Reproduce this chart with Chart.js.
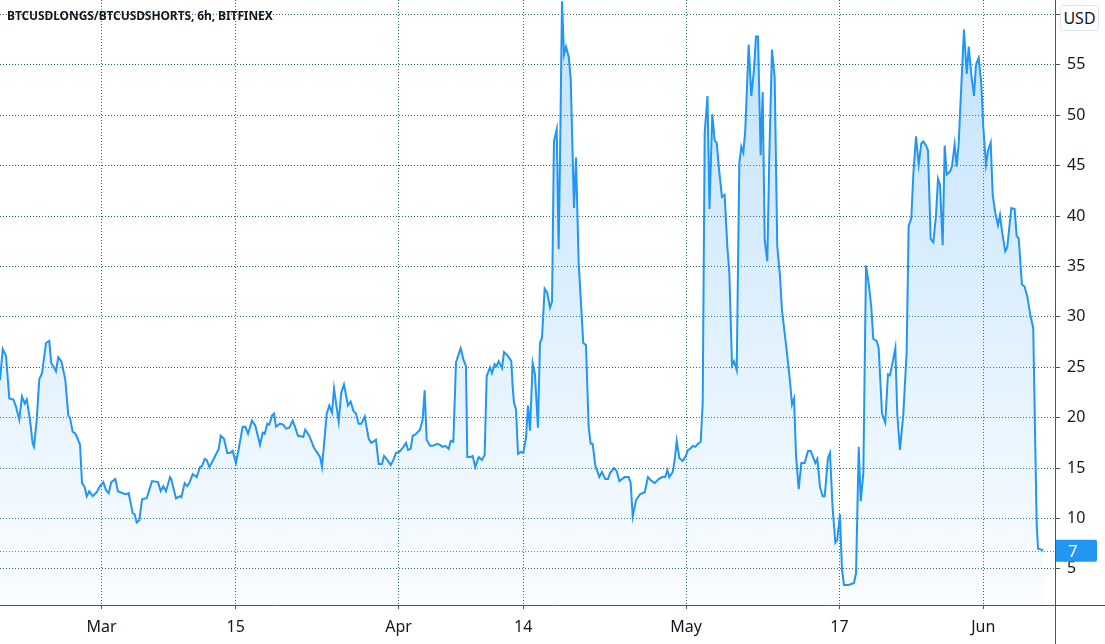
<!DOCTYPE html>
<html>
<head>
<meta charset="utf-8">
<script src="https://cdn.jsdelivr.net/npm/chart.js@4.4.1/dist/chart.umd.min.js"></script>
<style>
  html, body { margin: 0; padding: 0; background: #fff; }
  #wrap { position: relative; width: 1105px; height: 644px; }
  #title {
    position: absolute; left: 7px; top: 7px;
    font: bold 12px "Noto Sans", "DejaVu Sans", sans-serif; color: #131722;
    letter-spacing: -0.1px;
  }
  #unit {
    position: absolute; left: 1060px; top: 5px; width: 39px; height: 26px;
    box-sizing: border-box; border: 1px solid #e0e3eb; border-radius: 3px; background: #fff;
    font: 16px "Noto Sans", sans-serif; color: #131722; text-align: center; line-height: 24px;
  }
</style>
</head>
<body>
<div id="wrap">
  <canvas id="chart" width="1105" height="644"></canvas>
  <div id="title">BTCUSDLONGS/BTCUSDSHORTS, 6h, BITFINEX</div>
  <div id="unit">USD</div>
</div>
<script>
// days counted from 1 Mar
const days = [
  -10.59, -10.31, -9.96, -9.62, -9.20, -8.92, -8.58, -8.30, -8.01, -7.80, -7.46, -7.18, -7.04, -6.76, -6.49, -6.21,
  -5.79, -5.45, -5.24, -4.96, -4.75, -4.51, -4.19, -3.78, -3.46, -3.29, -3.01, -2.73, -2.53, -2.24, -2.03, -1.75,
  -1.54, -1.27, -0.92, -0.50, -0.16, 0.19, 0.47, 0.75, 1.02, 1.44, 1.72, 2.21, 2.56, 2.84, 3.26, 3.46, 3.67, 3.94,
  4.23, 4.72, 5.27, 5.90, 6.18, 6.45, 6.73, 7.15, 7.28, 7.77, 8.19, 8.33, 8.68, 8.95, 9.16, 9.52, 9.93, 10.28, 10.49,
  10.77, 10.98, 11.25, 11.60, 12.23, 12.44, 12.78, 13.13, 13.41, 13.69, 14.03, 14.32, 14.73, 15.00, 15.29, 15.70,
  16.05, 16.54, 16.82, 17.03, 17.30, 17.51, 17.79, 18.00, 18.21, 18.62, 18.97, 19.25, 19.60, 19.95, 20.22, 20.50,
  21.06, 21.26, 21.68, 22.17, 22.59, 22.80, 23.01, 23.50, 23.77, 24.05, 24.26, 24.75, 25.02, 25.30, 25.72, 26.00,
  26.27, 26.55, 26.84, 27.11, 27.46, 27.88, 28.15, 28.64, 28.92, 29.27, 29.48, 29.82, 30.18, 30.45, 30.73, 31.07,
  31.43, 31.77, 31.98, 32.26, 32.47, 32.74, 33.23, 33.51, 33.72, 33.93, 34.28, 34.56, 35.04, 35.32, 35.60, 35.87,
  36.23, 36.44, 36.71, 36.99, 37.48, 37.75, 38.03, 38.17, 38.52, 38.73, 39.00, 39.36, 39.70, 39.98, 40.19, 40.54,
  40.74, 41.03, 41.23, 41.44, 41.79, 42.00, 42.34, 42.76, 42.90, 43.04, 43.25, 43.46, 43.74, 44.01, 44.29, 44.50,
  44.71, 44.99, 45.23, 45.54, 45.75, 45.96, 46.24, 46.51, 46.80, 47.01, 47.21, 47.50, 47.70, 47.84, 48.05, 48.26,
  48.47, 48.75, 48.96, 49.30, 49.51, 49.79, 50.27, 50.55, 50.83, 51.04, 51.25, 51.52, 51.94, 52.22, 52.57, 52.85,
  53.06, 53.47, 53.76, 54.03, 54.59, 55.01, 55.22, 55.43, 55.77, 56.19, 56.68, 57.02, 57.30, 57.72, 58.14, 58.48,
  58.83, 59.04, 59.25, 59.60, 59.81, 60.02, 60.29, 60.64, 60.92, 61.20, 61.41, 61.69, 61.96, 62.24, 62.52, 62.73,
  62.94, 63.23, 63.44, 63.73, 63.98, 64.19, 64.46, 64.74, 65.02, 65.30, 65.51, 65.79, 66.00, 66.28, 66.55, 66.76,
  66.97, 67.17, 67.53, 67.80, 68.08, 68.29, 68.50, 68.78, 68.99, 69.20, 69.47, 69.68, 69.96, 70.24, 70.51, 70.80,
  71.00, 71.49, 71.84, 72.05, 72.26, 72.47, 72.75, 73.02, 73.37, 73.72, 74.00, 74.48, 74.69, 74.97, 75.25, 75.46,
  75.80, 76.01, 76.29, 76.57, 76.77, 77.05, 77.26, 77.47, 77.96, 78.52, 78.73, 79.01, 79.22, 79.49, 79.77, 80.05,
  80.32, 80.53, 80.88, 81.09, 81.44, 81.78, 82.06, 82.27, 82.55, 82.83, 83.03, 83.31, 83.66, 84.01, 84.22, 84.50,
  84.71, 84.99, 85.27, 85.54, 85.75, 86.03, 86.24, 86.52, 86.79, 87.07, 87.28, 87.49, 87.77, 87.98, 88.19, 88.53,
  88.74, 89.02, 89.23, 89.44, 89.65, 89.99, 90.28, 90.49, 90.75, 91.04, 91.24, 91.53, 91.80, 92.01, 92.29, 92.50,
  92.78, 92.99, 93.26, 93.54, 93.75, 93.96, 94.30, 94.51, 94.93, 95.28, 95.49, 95.70, 96.04, 96.32, 96.60, 96.95,
  97.22, 97.37, 97.58, 97.72, 98.06, 98.27
];
const ratio = [
  23.7, 26.8, 26.1, 21.9, 21.8, 21.1, 19.8, 22.1, 21.4, 21.8, 19.8, 17.4, 17.1, 19.8, 23.8, 24.4,
  27.4, 27.6, 25.4, 25.0, 24.6, 26.0, 25.6, 23.8, 20.2, 20.0, 18.6, 18.4, 18.0, 17.3, 13.5, 13.1,
  12.2, 12.7, 12.2, 12.6, 13.2, 13.6, 12.8, 12.5, 13.6, 13.9, 12.7, 12.5, 12.4, 12.5, 10.5, 10.4, 9.6, 9.8,
  11.9, 12.0, 13.7, 13.6, 12.7, 13.2, 12.7, 14.1, 13.9, 12.0, 12.2, 12.1, 13.5, 13.2, 13.5, 14.4, 14.1, 15.1, 15.2,
  15.9, 15.8, 15.1, 15.7, 16.9, 18.2, 17.9, 16.5, 16.5, 16.7, 15.5, 16.9, 19.1, 19.1, 18.4, 19.7,
  19.2, 17.3, 18.5, 18.4, 19.4, 19.3, 20.2, 20.4, 19.1, 19.4, 19.3, 18.9, 19.0, 19.7, 19.0, 18.2,
  18.1, 18.8, 18.2, 17.0, 16.4, 16.1, 15.1, 20.4, 21.2, 20.5, 22.9, 19.6, 22.5, 23.3, 21.2, 21.6,
  20.7, 20.4, 19.4, 19.4, 20.1, 17.9, 17.5, 17.8, 15.4, 15.4, 16.2, 15.8, 15.3, 15.8, 16.5, 16.6,
  17.0, 17.5, 16.8, 16.9, 18.2, 18.3, 18.8, 19.8, 22.7, 17.8, 17.2, 17.2, 17.4, 17.3, 17.1, 17.2,
  16.9, 17.7, 17.6, 25.5, 26.9, 25.8, 25.1, 16.1, 16.1, 16.2, 15.1, 16.1, 15.8, 16.3, 24.1, 25.0,
  24.4, 25.3, 25.1, 25.6, 24.9, 26.5, 26.2, 25.6, 23.1, 21.5, 20.8, 16.4, 16.6, 16.5, 18.0, 21.2,
  18.7, 25.4, 24.3, 19.0, 27.4, 27.9, 32.8, 32.4, 30.9, 31.5, 47.4, 48.6, 36.7, 45.6, 61.3, 56.0,
  56.8, 55.8, 53.6, 40.8, 45.8, 35.3, 27.4, 27.2, 19.1, 17.4, 17.4, 15.3, 14.1, 14.6, 13.9, 13.9,
  14.5, 15.0, 14.7, 13.7, 14.1, 14.1, 13.5, 10.2, 11.8, 12.4, 12.6, 14.1, 13.8, 13.5, 13.9, 14.1,
  14.1, 14.8, 14.1, 14.6, 15.8, 17.7, 16.0, 15.7, 16.1, 16.8, 16.9, 17.2, 17.1, 17.4, 17.6, 21.4,
  48.3, 51.9, 40.7, 50.1, 47.5, 47.3, 44.4, 41.9, 42.1, 37.0, 34.3, 25.2, 25.6, 24.7, 45.2, 46.9,
  46.3, 48.5, 57.0, 51.9, 54.5, 57.8, 57.8, 46.0, 52.3, 37.6, 35.5, 45.9, 56.5, 53.8, 37.0, 34.0,
  30.7, 26.7, 23.6, 21.3, 21.9, 16.2, 12.9, 15.5, 15.5, 16.7, 16.7, 15.5, 15.9, 13.1, 12.2, 12.2,
  16.0, 16.5, 11.0, 7.6, 7.9, 10.4, 5.0, 3.4, 3.4, 3.6, 4.6, 17.1, 11.7, 14.5, 35.1, 33.3,
  31.0, 27.8, 27.6, 26.9, 20.4, 19.5, 24.3, 24.2, 25.5, 26.9, 20.4, 16.8, 20.3, 26.5, 39.0, 39.8,
  44.2, 47.9, 45.1, 47.2, 47.4, 47.0, 46.5, 37.7, 37.4, 40.0, 43.7, 43.1, 37.1, 47.0, 44.1, 44.4,
  44.9, 47.1, 44.9, 47.2, 51.6, 58.5, 54.1, 56.8, 54.1, 51.9, 55.0, 55.7, 53.1, 48.8, 45.1, 46.5,
  47.3, 42.1, 40.3, 39.1, 40.1, 38.5, 36.5, 36.9, 40.8, 40.7, 38.0, 37.8, 33.2, 33.0, 32.0, 30.0,
  28.9, 20.5, 9.4, 7.0, 6.9, 6.8
];
const tickDays = [0, 14, 31, 44, 61, 77, 92];
const tickLabels = ["Mar", "15", "Apr", "14", "May", "17", "Jun"];
const priceTicks = [5, 10, 15, 20, 25, 30, 35, 40, 45, 50, 55, 60];

const BLUE = "#2196f3";
const GRID = "#2e6e6e";
const AXIS = "#50535e";
const TEXT = "#131722";
const FONT = '"Noto Sans", sans-serif';

const fillGradient = (ctx) => {
  const area = ctx.chart.chartArea;
  if (!area) return "rgba(33,150,243,0.15)";
  const g = ctx.chart.ctx.createLinearGradient(0, area.top, 0, area.bottom);
  g.addColorStop(0, "rgba(33,150,243,0.28)");
  g.addColorStop(1, "rgba(33,150,243,0.02)");
  return g;
};

const noPadding = (scale) => {
  scale.paddingTop = 0;
  scale.paddingBottom = 0;
  scale.paddingLeft = 0;
  scale.paddingRight = 0;
};

// last value line + badge, and the solid axis lines
const lastPrice = {
  id: "lastPrice",
  beforeDatasetsDraw(chart) {
    const { ctx, chartArea, scales } = chart;
    const y = Math.round(scales.y.getPixelForValue(ratio[ratio.length - 1])) + 0.5;
    ctx.save();
    ctx.strokeStyle = BLUE;
    ctx.lineWidth = 1;
    ctx.setLineDash([1, 2]);
    ctx.beginPath();
    ctx.moveTo(chartArea.left, y);
    ctx.lineTo(chartArea.right, y);
    ctx.stroke();
    ctx.restore();
  },
  afterDraw(chart) {
    const { ctx, chartArea, scales, width, height } = chart;
    ctx.save();
    ctx.strokeStyle = AXIS;
    ctx.lineWidth = 1;
    ctx.beginPath();
    ctx.moveTo(0, chartArea.bottom + 0.5);
    ctx.lineTo(width, chartArea.bottom + 0.5);
    ctx.moveTo(chartArea.right + 0.5, 0);
    ctx.lineTo(chartArea.right + 0.5, height);
    ctx.stroke();

    const last = ratio[ratio.length - 1];
    const y = scales.y.getPixelForValue(last);
    ctx.fillStyle = BLUE;
    ctx.beginPath();
    ctx.roundRect(chartArea.right + 1, y - 11, 41, 22, [0, 2, 2, 0]);
    ctx.fill();
    ctx.fillStyle = "#fff";
    ctx.font = "17px " + FONT;
    ctx.textBaseline = "middle";
    ctx.fillText(String(Math.round(last)), chartArea.right + 13, y + 1);
    ctx.restore();
  },
};

new Chart(document.getElementById("chart"), {
  type: "line",
  data: {
    datasets: [{
      data: days.map((d, i) => ({ x: d, y: ratio[i] })),
      borderColor: BLUE,
      borderWidth: 2,
      backgroundColor: fillGradient,
      fill: "start",
      pointRadius: 0,
      tension: 0,
    }],
  },
  options: {
    responsive: false,
    animation: false,
    layout: { padding: 0 },
    plugins: { legend: { display: false }, tooltip: { enabled: false } },
    scales: {
      x: {
        type: "linear",
        min: -10.59,
        max: 99.49,
        afterBuildTicks: (scale) => { scale.ticks = tickDays.map((v) => ({ value: v })); },
        afterFit: (scale) => { scale.height = 39; noPadding(scale); },
        ticks: {
          autoSkip: false,
          maxRotation: 0,
          padding: 9,
          color: TEXT,
          font: { family: FONT, size: 16 },
          callback: (v) => tickLabels[tickDays.indexOf(v)],
        },
        grid: {
          color: GRID,
          tickLength: 4,
          tickColor: AXIS,
          tickBorderDash: [],
        },
        border: { display: false, dash: [1, 2] },
      },
      y: {
        position: "right",
        min: 1.41,
        max: 61.43,
        afterBuildTicks: (scale) => { scale.ticks = priceTicks.map((v) => ({ value: v })); },
        afterFit: (scale) => { scale.width = 50; noPadding(scale); },
        ticks: {
          padding: 7,
          color: TEXT,
          font: { family: FONT, size: 16 },
          callback: (v) => (v === 60 ? "" : String(v)),
        },
        grid: {
          color: GRID,
          tickLength: 5,
          tickColor: AXIS,
          tickBorderDash: [],
        },
        border: { display: false, dash: [1, 2] },
      },
    },
  },
  plugins: [lastPrice],
});
</script>
</body>
</html>
